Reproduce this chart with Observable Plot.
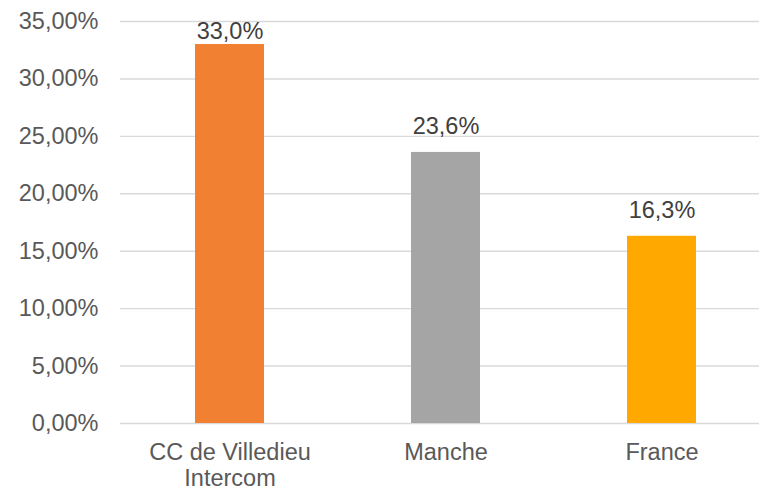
<!DOCTYPE html>
<html>
<head>
<meta charset="utf-8">
<script src="https://cdn.jsdelivr.net/npm/d3@7"></script>
<script src="https://cdn.jsdelivr.net/npm/@observablehq/plot@0.6"></script>
<style>
  html, body { margin: 0; padding: 0; background: #fff; overflow: hidden; }
  #chart { width: 771px; }
</style>
</head>
<body>
<div id="chart"></div>
<script>
const categories = ["CC de Villedieu\nIntercom", "Manche", "France"];
const values = [33.0, 23.6, 16.3];
const labels = ["33,0%", "23,6%", "16,3%"];
const colors = ["#F28033", "#A5A5A5", "#FFA800"];
const yTicks = [0, 5, 10, 15, 20, 25, 30, 35];

const data = categories.map((c, i) => ({cat: c, value: values[i], label: labels[i], color: colors[i]}));
const yMax = 35;
const labelFits = d => d.value < 32;

const chart = Plot.plot({
  width: 771,
  height: 490,
  marginLeft: 120,
  marginRight: 1,
  marginTop: 21,
  marginBottom: 67,
  style: {fontFamily: "'Liberation Sans', Arial, sans-serif", fontSize: "23.5px", color: "#595959", background: "#fff"},
  x: {domain: categories, paddingInner: 0.682, paddingOuter: 0.341, label: null},
  y: {domain: [0, yMax], label: null},
  marks: [
    Plot.gridY(yTicks, {stroke: "#D9D9D9", strokeOpacity: 1, strokeWidth: 1.4}),
    Plot.axisY(yTicks, {tickSize: 0, tickPadding: 22, label: null, fill: "#595959",
      tickFormat: d => d.toFixed(2).replace(".", ",") + "%"}),
    Plot.axisX({tickSize: 0, tickPadding: 18, label: null, lineHeight: 1.1, fill: "#595959"}),
    Plot.barY(data, {x: "cat", y: "value", fill: "color"}),
    Plot.text(data.filter(labelFits), {x: "cat", y: "value", text: "label", dy: -25.5, fill: "#404040"}),
    Plot.text(data.filter(d => !labelFits(d)), {x: "cat", frameAnchor: "top", text: "label", dy: 0.5, fill: "#404040"})
  ]
});
document.getElementById("chart").appendChild(chart);
</script>
</body>
</html>
